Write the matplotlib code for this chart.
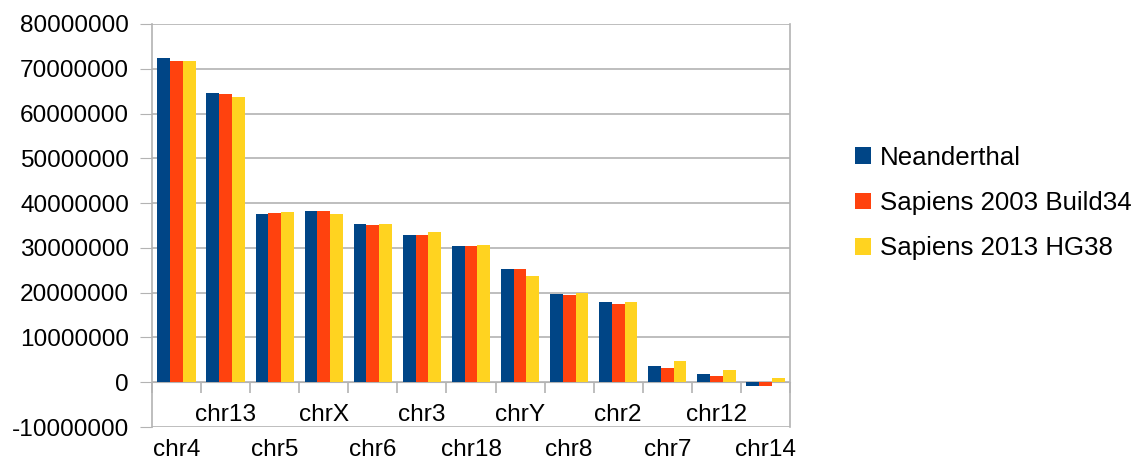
import numpy as np
import matplotlib
matplotlib.use("Agg")
import matplotlib.pyplot as plt
from matplotlib.patches import Patch
import matplotlib.transforms as mtransforms

categories = ["chr4", "chr13", "chr5", "chrX", "chr6", "chr3", "chr18",
              "chrY", "chr8", "chr2", "chr7", "chr12", "chr14"]
neanderthal = [72.4e6, 64.6e6, 37.5e6, 38.2e6, 35.3e6, 32.8e6, 30.4e6,
               25.3e6, 19.7e6, 17.9e6, 3.6e6, 1.8e6, -0.9e6]
sapiens_2003 = [71.7e6, 64.4e6, 37.8e6, 38.2e6, 35.1e6, 32.8e6, 30.4e6,
                25.3e6, 19.4e6, 17.4e6, 3.1e6, 1.3e6, -0.9e6]
sapiens_2013 = [71.7e6, 63.7e6, 38.0e6, 37.5e6, 35.3e6, 33.5e6, 30.6e6,
                23.7e6, 19.9e6, 17.9e6, 4.7e6, 2.7e6, 0.9e6]
series_names = ["Neanderthal", "Sapiens 2003 Build34", "Sapiens 2013 HG38"]
yticks = list(range(-10000000, 80000001, 10000000))

colors = ["#004586", "#ff420e", "#ffd320"]
grid_c = "#b3b3b3"
plt.rcParams['font.family'] = ['Liberation Sans', 'DejaVu Sans']
fs = 17.6

fig = plt.figure(figsize=(11.4, 4.62), dpi=100)
ax = fig.add_axes([152/1140, 35/462, 638/1140, 403/462])

x = np.arange(len(categories))
w = 0.26
for i, (vals, c) in enumerate(zip([neanderthal, sapiens_2003, sapiens_2013], colors)):
    ax.bar(x + (i - 1) * w, vals, width=w, color=c, label=series_names[i], zorder=3)

ax.set_xlim(-0.5, len(categories) - 0.5)
ax.set_ylim(yticks[0], yticks[-1])
ax.set_yticks(yticks)
ax.set_yticklabels([str(v) for v in yticks], fontsize=fs)
ax.yaxis.grid(True, color=grid_c, linewidth=1.2, zorder=0)
ax.tick_params(axis='y', direction='out', length=8.5, color=grid_c, pad=8)

# category axis at zero with boundary ticks
ax.spines['bottom'].set_position(('data', 0))
ax.spines['bottom'].set_color(grid_c)
ax.spines['bottom'].set_zorder(2)
for s in ['left', 'right']:
    ax.spines[s].set_color(grid_c)
    ax.spines[s].set_linewidth(1.2)
ax.spines['top'].set_visible(False)
ax.set_xticks(np.arange(len(categories) + 1) - 0.5)
ax.set_xticklabels([])
ax.tick_params(axis='x', direction='out', length=8, color=grid_c, width=1.2)

trans = mtransforms.blended_transform_factory(ax.transData, ax.transAxes)
for i, lab in enumerate(categories):
    yy = -(450 - 427) / 403 if i % 2 == 0 else (427 - 415) / 403
    t = ax.text(i, yy, lab, transform=trans, ha='center', va='center', fontsize=fs)
    t.set_clip_on(False)

handles = [Patch(facecolor=c, edgecolor='none') for c in colors]
fig.legend(handles, series_names, loc='center left', bbox_to_anchor=(855/1140, 1 - 203/462),
           frameon=False, fontsize=18.6, handlelength=0.62, handleheight=0.62,
           handletextpad=0.33, labelspacing=0.83, borderpad=0, borderaxespad=0)

fig.savefig("out.png", dpi=100)
